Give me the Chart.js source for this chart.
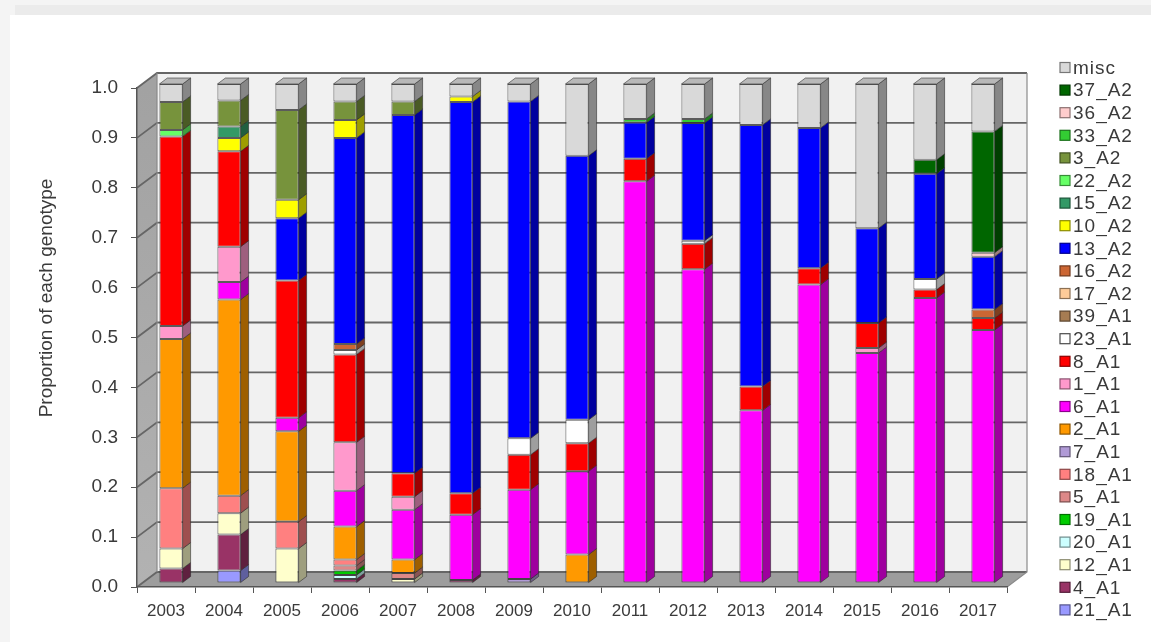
<!DOCTYPE html>
<html>
<head>
<meta charset="utf-8">
<title>Genotype proportions 2003-2017</title>
<script src="https://cdn.jsdelivr.net/npm/chart.js@4/dist/chart.umd.min.js"></script>
<style>
  html, body { margin: 0; padding: 0; background: #f3f3f3; }
  #wrap { width: 1151px; height: 642px; }
</style>
</head>
<body>
<div id="wrap"><canvas id="genoChart" width="1151" height="642"></canvas></div>
<script>
const years = ["2003", "2004", "2005", "2006", "2007", "2008", "2009", "2010",
               "2011", "2012", "2013", "2014", "2015", "2016", "2017"];

// genotypes in stacking order, from the floor up
const genotypes = ["21_A1", "4_A1", "12_A1", "20_A1", "19_A1", "5_A1", "18_A1", "7_A1",
                   "2_A1", "6_A1", "1_A1", "8_A1", "23_A1", "39_A1", "17_A2", "16_A2",
                   "13_A2", "10_A2", "15_A2", "22_A2", "3_A2", "33_A2", "36_A2", "37_A2", "misc"];

const colours = ["#9999ff", "#993366", "#ffffcc", "#ccffff", "#00cc00", "#dd8888", "#ff8080", "#b09ad6",
                 "#ff9900", "#ff00ff", "#ff99cc", "#ff0000", "#ffffff", "#a67c52", "#ffcc99", "#cc6633",
                 "#0000ff", "#ffff00", "#339966", "#66ff66", "#77933c", "#33cc33", "#ffcccc", "#006600", "#d9d9d9"];

// proportion per year, 2003 .. 2017
const v21_A1 = [0, 0.025, 0, 0, 0, 0, 0, 0, 0, 0, 0, 0, 0, 0, 0];
const v4_A1  = [0.029, 0.072, 0, 0.008, 0, 0.006, 0, 0, 0, 0, 0, 0, 0, 0, 0];
const v12_A1 = [0.040, 0.043, 0.069, 0, 0.008, 0, 0, 0, 0, 0, 0, 0, 0, 0, 0];
const v20_A1 = [0, 0, 0, 0.008, 0, 0, 0, 0, 0, 0, 0, 0, 0, 0, 0];
const v19_A1 = [0, 0, 0, 0.009, 0, 0, 0, 0, 0, 0, 0, 0, 0, 0, 0];
const v5_A1  = [0, 0, 0, 0.010, 0.012, 0, 0, 0, 0, 0, 0, 0, 0, 0, 0];
const v18_A1 = [0.121, 0.035, 0.054, 0.012, 0, 0, 0, 0, 0, 0, 0, 0, 0, 0, 0];
const v7_A1  = [0, 0, 0, 0, 0, 0, 0.008, 0, 0, 0, 0, 0, 0, 0, 0];
const v2_A1  = [0.299, 0.393, 0.181, 0.066, 0.027, 0, 0, 0.057, 0, 0, 0, 0, 0, 0, 0];
const v6_A1  = [0, 0.035, 0.027, 0.072, 0.100, 0.131, 0.179, 0.167, 0.805, 0.629, 0.346, 0.598, 0.461, 0.571, 0.507];
const v1_A1  = [0.026, 0.071, 0, 0.097, 0.026, 0, 0, 0, 0, 0, 0, 0, 0.010, 0, 0];
const v8_A1  = [0.380, 0.191, 0.275, 0.176, 0.047, 0.043, 0.070, 0.056, 0.045, 0.051, 0.048, 0.033, 0.050, 0.017, 0.024];
const v23_A1 = [0, 0, 0, 0.009, 0, 0, 0.033, 0.047, 0, 0.006, 0, 0, 0, 0.021, 0];
const v39_A1 = [0, 0, 0, 0, 0, 0, 0, 0, 0, 0, 0, 0, 0, 0, 0];
const v17_A2 = [0, 0, 0, 0, 0, 0, 0, 0, 0, 0, 0, 0, 0, 0, 0];
const v16_A2 = [0, 0, 0, 0.012, 0, 0, 0, 0, 0, 0, 0, 0, 0, 0, 0.017];
const v13_A2 = [0, 0, 0.125, 0.413, 0.718, 0.784, 0.675, 0.529, 0.073, 0.236, 0.524, 0.281, 0.190, 0.211, 0.106];
const v10_A2 = [0, 0.027, 0.037, 0.036, 0, 0.011, 0, 0, 0, 0, 0, 0, 0, 0, 0];
const v15_A2 = [0, 0.023, 0, 0, 0, 0, 0, 0, 0, 0, 0, 0, 0, 0, 0];
const v22_A2 = [0.013, 0, 0, 0, 0, 0, 0, 0, 0, 0, 0, 0, 0, 0, 0];
const v3_A2  = [0.056, 0.052, 0.180, 0.037, 0.027, 0, 0, 0, 0, 0, 0, 0, 0, 0, 0];
const v33_A2 = [0, 0, 0, 0, 0, 0, 0, 0, 0.007, 0.008, 0, 0, 0, 0, 0];
const v36_A2 = [0, 0, 0, 0, 0, 0, 0, 0, 0, 0, 0, 0, 0, 0, 0.008];
const v37_A2 = [0, 0, 0, 0, 0, 0, 0, 0, 0, 0, 0, 0, 0, 0.028, 0.243];
const vMisc  = [0.036, 0.033, 0.052, 0.035, 0.035, 0.025, 0.035, 0.144, 0.070, 0.070, 0.082, 0.088, 0.289, 0.152, 0.095];

const series = [v21_A1, v4_A1, v12_A1, v20_A1, v19_A1, v5_A1, v18_A1, v7_A1,
                v2_A1, v6_A1, v1_A1, v8_A1, v23_A1, v39_A1, v17_A2, v16_A2,
                v13_A2, v10_A2, v15_A2, v22_A2, v3_A2, v33_A2, v36_A2, v37_A2, vMisc];

const FONT = "'Liberation Sans', Arial, sans-serif";
const TEXT = "#3a3a3a";

// depth of the plot box, and where the bars sit inside it
const DX = 20, DY = -15;
const BAR_DX = 5, BAR_DY = -4;
const FACE_DX = 8, FACE_DY = -6;

function shade(hex, f) {
  const n = parseInt(hex.slice(1), 16);
  const r = Math.round(((n >> 16) & 255) * f);
  const g = Math.round(((n >> 8) & 255) * f);
  const b = Math.round((n & 255) * f);
  return `rgb(${r},${g},${b})`;
}

const box3d = {
  id: "box3d",
  beforeDraw(chart) {
    const { ctx, chartArea: a, scales: { y } } = chart;
    const y0 = y.getPixelForValue(0);
    const y1 = y.getPixelForValue(1);

    ctx.save();
    // page card
    ctx.fillStyle = "#f4f4f4";
    ctx.fillRect(0, 0, chart.width, chart.height);
    ctx.fillStyle = "#ebebeb";
    ctx.fillRect(15, 5, chart.width - 15, 10);
    ctx.fillStyle = "#ffffff";
    ctx.fillRect(10, 15, chart.width - 10, chart.height - 15);

    // left side wall
    const side = ctx.createLinearGradient(0, y1, 0, y0);
    side.addColorStop(0, "#a2a2a2");
    side.addColorStop(1, "#b2b2b2");
    ctx.fillStyle = side;
    ctx.beginPath();
    ctx.moveTo(a.left, y1);
    ctx.lineTo(a.left + DX, y1 + DY);
    ctx.lineTo(a.left + DX, y0 + DY);
    ctx.lineTo(a.left, y0);
    ctx.closePath();
    ctx.fill();

    // floor
    ctx.fillStyle = "#9d9d9d";
    ctx.beginPath();
    ctx.moveTo(a.left, y0);
    ctx.lineTo(a.left + DX, y0 + DY);
    ctx.lineTo(a.right + DX, y0 + DY);
    ctx.lineTo(a.right, y0);
    ctx.closePath();
    ctx.fill();

    // back wall
    ctx.fillStyle = "#f1f1f1";
    ctx.fillRect(a.left + DX, y1 + DY, a.right - a.left, y0 - y1);

    // grid lines run across the side wall and the back wall
    ctx.strokeStyle = "#666666";
    ctx.lineWidth = 1.8;
    y.ticks.forEach(t => {
      const py = y.getPixelForValue(t.value);
      ctx.beginPath();
      ctx.moveTo(a.left, py);
      ctx.lineTo(a.left + DX, py + DY);
      ctx.lineTo(a.right + DX, py + DY);
      ctx.stroke();
    });

    // outer edges of the box
    ctx.strokeStyle = "#8a8a8a";
    ctx.lineWidth = 1.2;
    ctx.beginPath();
    ctx.moveTo(a.left + DX, y1 + DY);
    ctx.lineTo(a.left + DX, y0 + DY);
    ctx.moveTo(a.right + DX, y1 + DY);
    ctx.lineTo(a.right + DX, y0 + DY);
    ctx.lineTo(a.right, y0);
    ctx.stroke();
    ctx.restore();
  },
  beforeDatasetsDraw(chart) {
    chart.ctx.save();
    chart.ctx.translate(BAR_DX, BAR_DY);
  },
  afterDatasetsDraw(chart) {
    const { ctx } = chart;
    const datasets = chart.data.datasets;
    ctx.lineWidth = 0.8;
    ctx.strokeStyle = "rgba(40,40,40,0.7)";

    // right-hand faces of every segment
    datasets.forEach((ds, di) => {
      chart.getDatasetMeta(di).data.forEach((bar, i) => {
        if (!ds.data[i]) return;
        const r = bar.x + bar.width / 2;
        ctx.fillStyle = shade(ds.backgroundColor, 0.62);
        ctx.beginPath();
        ctx.moveTo(r, bar.y);
        ctx.lineTo(r + FACE_DX, bar.y + FACE_DY);
        ctx.lineTo(r + FACE_DX, bar.base + FACE_DY);
        ctx.lineTo(r, bar.base);
        ctx.closePath();
        ctx.fill();
        ctx.stroke();
      });
    });

    // lid on top of each column
    chart.data.labels.forEach((_, i) => {
      for (let di = datasets.length - 1; di >= 0; di--) {
        if (!datasets[di].data[i]) continue;
        const bar = chart.getDatasetMeta(di).data[i];
        const l = bar.x - bar.width / 2, r = bar.x + bar.width / 2;
        ctx.fillStyle = shade(datasets[di].backgroundColor, 0.85);
        ctx.beginPath();
        ctx.moveTo(l, bar.y);
        ctx.lineTo(l + FACE_DX, bar.y + FACE_DY);
        ctx.lineTo(r + FACE_DX, bar.y + FACE_DY);
        ctx.lineTo(r, bar.y);
        ctx.closePath();
        ctx.fill();
        ctx.stroke();
        break;
      }
    });
    ctx.restore();
  },
  afterDraw(chart) {
    const { ctx } = chart;
    ctx.save();

    // y axis title
    ctx.translate(47, 298);
    ctx.rotate(-Math.PI / 2);
    ctx.fillStyle = TEXT;
    ctx.font = `19px ${FONT}`;
    ctx.textAlign = "center";
    ctx.textBaseline = "middle";
    ctx.fillText("Proportion of each genotype", 0, 0);
    ctx.setTransform(1, 0, 0, 1, 0, 0);

    // legend, top of the stack first
    ctx.font = `19px ${FONT}`;
    ctx.letterSpacing = "1px";
    ctx.textAlign = "left";
    const items = chart.data.datasets.slice().reverse();
    items.forEach((ds, k) => {
      const cy = 67.5 + k * 22.6;
      ctx.fillStyle = ds.backgroundColor;
      ctx.fillRect(1060, cy - 5, 10, 10);
      ctx.strokeStyle = shade(ds.backgroundColor === "#ffffff" ? "#888888" : ds.backgroundColor, 0.55);
      ctx.lineWidth = 1.2;
      ctx.strokeRect(1060, cy - 5, 10, 10);
      ctx.fillStyle = TEXT;
      ctx.fillText(ds.label, 1073, cy + 1);
    });
    ctx.restore();
  }
};

Chart.defaults.font.family = FONT;

const datasets = genotypes.map((name, i) => ({
  label: name,
  data: series[i].map(v => v || null),
  backgroundColor: colours[i],
  borderColor: "rgba(40,40,40,0.75)",
  borderWidth: 1,
  borderSkipped: false
}));

new Chart(document.getElementById("genoChart"), {
  type: "bar",
  data: { labels: years, datasets: datasets },
  options: {
    responsive: false,
    animation: false,
    layout: { padding: { top: 88, right: 144, bottom: 0, left: 0 } },
    datasets: { bar: { barPercentage: 0.4, categoryPercentage: 1, clip: false } },
    plugins: { legend: { display: false }, tooltip: { enabled: false } },
    scales: {
      x: {
        stacked: true,
        offset: true,
        grid: { offset: true, drawOnChartArea: false, tickLength: 6, color: "#555" },
        border: { color: "#555", width: 1.5 },
        ticks: { color: TEXT, font: { size: 17 }, padding: 8, maxRotation: 0 },
        afterFit(scale) { scale.height = 55; }
      },
      y: {
        stacked: true,
        min: 0,
        max: 1,
        grid: { drawOnChartArea: false, tickLength: 6, color: "#555" },
        border: { color: "#555", width: 1.5 },
        ticks: { stepSize: 0.1, color: TEXT, font: { size: 19 }, padding: 13,
                 callback: v => v.toFixed(1) },
        afterFit(scale) { scale.width = 137; }
      }
    }
  },
  plugins: [box3d]
});
</script>
</body>
</html>
